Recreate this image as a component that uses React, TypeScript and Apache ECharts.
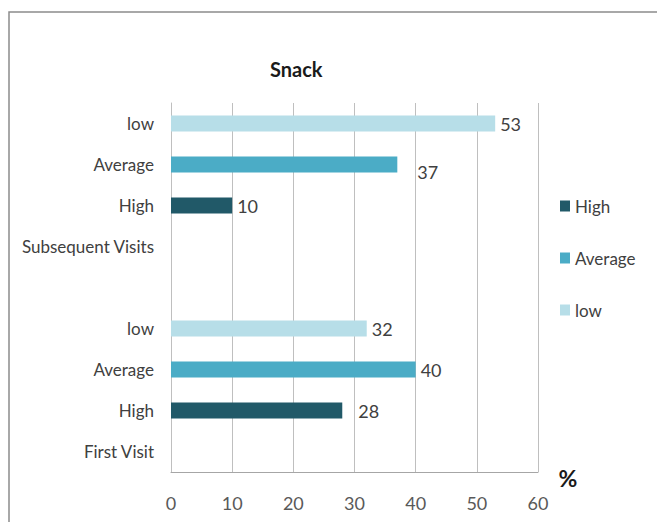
import React, { useEffect, useRef } from "react";
import * as echarts from "echarts";

const categories = ["First Visit", "High", "Average", "low", "", "Subsequent Visits", "High", "Average", "low"];
const seriesNames = ["High", "Average", "low"];
const highValues = [null, 28, null, null, null, null, 10, null, null];
const averageValues = [null, null, 40, null, null, null, null, 37, null];
const lowValues = [null, null, null, 32, null, null, null, null, 53];
const xTicks = [0, 10, 20, 30, 40, 50, 60];

const FONT = "Lato, sans-serif";
const colors = ["#215968", "#4BACC6", "#B7DEE8"];

export default function App() {
  const ref = useRef<HTMLDivElement>(null);
  useEffect(() => {
    if (!ref.current) return;
    const chart = echarts.init(ref.current, undefined, { renderer: "svg" });
    const labelOffsets: Record<string, number[]> = { "1": [11, 0], "7": [15, 7] };
    const mk = (name: string, values: (number | null)[], color: string) => ({
      name,
      type: "bar",
      stack: "all",
      barWidth: 16,
      itemStyle: { color },
      data: values.map((v, i) =>
        v === null
          ? "-"
          : {
              value: v,
              label: labelOffsets[String(i)] ? { offset: labelOffsets[String(i)] } : undefined,
            }
      ),
      label: {
        show: true,
        position: "right",
        distance: 5,
        color: "#404040",
        fontFamily: FONT,
        fontSize: 18,
      },
    });
    chart.setOption({
      animation: false,
      backgroundColor: "#ffffff",
      title: {
        text: "Snack",
        left: 265,
        top: 54,
        textStyle: { fontFamily: FONT, fontSize: 20, fontWeight: "bold", color: "#1a1a1a" },
      },
      legend: {
        orient: "vertical",
        left: 555,
        top: 191,
        itemWidth: 10,
        itemHeight: 11,
        itemGap: 32,
        icon: "rect",
        data: seriesNames,
        textStyle: { fontFamily: FONT, fontSize: 17, lineHeight: 20, color: "#404040" },
      },
      grid: { left: 171, right: 119, top: 103, bottom: 50, containLabel: false, outerBoundsMode: "none" },
      xAxis: {
        type: "value",
        min: xTicks[0],
        max: xTicks[xTicks.length - 1],
        interval: 10,
        axisLine: { show: true, lineStyle: { color: "#A6A6A6" } },
        axisTick: { show: false },
        splitLine: { show: true, lineStyle: { color: "#BFBFBF" } },
        axisLabel: { margin: 22, color: "#595959", fontFamily: FONT, fontSize: 18 },
      },
      yAxis: {
        type: "category",
        data: categories.map((_, i) => String(i)),
        axisLine: { show: true, lineStyle: { color: "#BFBFBF" } },
        axisTick: { show: false },
        axisLabel: {
          margin: 17,
          color: "#404040",
          fontFamily: FONT,
          fontSize: 17,
          formatter: (v: string) => categories[Number(v)],
        },
      },
      graphic: [
        {
          type: "rect",
          shape: { x: 9, y: 12, width: 720, height: 600 },
          style: { fill: "none", stroke: "#8C8C8C", lineWidth: 1.5 },
          silent: true,
        },
        {
          type: "text",
          x: 568,
          y: 478,
          style: {
            text: "%",
            fontFamily: FONT,
            fontSize: 23,
            fontWeight: "bold",
            fill: "#1a1a1a",
            align: "center",
            verticalAlign: "middle",
          },
        },
      ],
      series: [
        mk(seriesNames[0], highValues, colors[0]),
        mk(seriesNames[1], averageValues, colors[1]),
        mk(seriesNames[2], lowValues, colors[2]),
      ],
    });
    return () => chart.dispose();
  }, []);
  return (
    <div
      ref={ref}
      style={{ position: "fixed", left: 0, top: 0, width: 657, height: 522 }}
    />
  );
}
